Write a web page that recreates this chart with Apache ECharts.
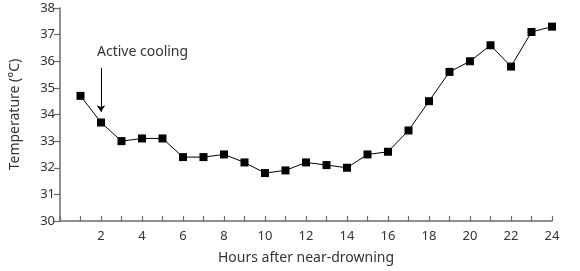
<!DOCTYPE html>
<html>
<head>
<meta charset="utf-8">
<script src="https://cdn.jsdelivr.net/npm/echarts@6/dist/echarts.min.js"></script>
<style>html,body{margin:0;padding:0;background:#fff}#c{width:580px;height:271px}</style>
</head>
<body>
<div id="c"></div>
<script>
var hours = [1,2,3,4,5,6,7,8,9,10,11,12,13,14,15,16,17,18,19,20,21,22,23,24];
var temps = [34.7,33.7,33.0,33.1,33.1,32.4,32.4,32.5,32.2,31.8,31.9,32.2,32.1,32.0,32.5,32.6,33.4,34.5,35.6,36.0,36.6,35.8,37.1,37.3];
var annotationText = 'Active cooling';
var annotationHour = 2;
var arrowFrom = 35.75;
var arrowTo = 34.1;
var textLevel = 36.35;
var xTitle = 'Hours after near-drowning';
var yTitle = 'Temperature (\u00B0C)';

var axisColor = '#6b6b6b';
var textColor = '#333';
var font = '"Noto Sans"';

var chart = echarts.init(document.getElementById('c'));
chart.setOption({
  animation: false,
  backgroundColor: '#fff',
  grid: {left: 60, right: 28, top: 8, bottom: 50, containLabel: false},
  xAxis: {
    type: 'value', min: 0, max: 24, interval: 1,
    name: xTitle, nameLocation: 'middle', nameGap: 30,
    nameTextStyle: {color: textColor, fontSize: 14, fontFamily: font},
    axisLine: {show: true, lineStyle: {color: axisColor, width: 1.5}},
    axisTick: {show: true, inside: true, length: 5, lineStyle: {color: axisColor, width: 1.2}},
    axisLabel: {color: textColor, fontSize: 13, fontFamily: font, margin: 9,
      formatter: function (v) { return (v > 0 && v % 2 === 0) ? String(v) : ''; }},
    splitLine: {show: false}
  },
  yAxis: {
    type: 'value', min: 30, max: 38, interval: 1,
    name: yTitle, nameLocation: 'middle', nameGap: 38, nameRotate: 90,
    nameTextStyle: {color: textColor, fontSize: 14, fontFamily: font},
    axisLine: {show: true, lineStyle: {color: axisColor, width: 1.5}},
    axisTick: {show: true, inside: false, length: 6, lineStyle: {color: axisColor, width: 1.2}},
    axisLabel: {color: textColor, fontSize: 13, fontFamily: font, margin: 5},
    splitLine: {show: false}
  },
  series: [{
    type: 'line',
    data: hours.map(function (h, i) { return [h, temps[i]]; }),
    symbol: 'rect', symbolSize: 8,
    itemStyle: {color: '#000'},
    lineStyle: {color: '#000', width: 1},
    markLine: {
      silent: true,
      symbol: ['none', 'arrow'], symbolSize: 6.5,
      lineStyle: {color: '#000', width: 1, type: 'solid'},
      label: {show: false},
      data: [[{coord: [annotationHour, arrowFrom]}, {coord: [annotationHour, arrowTo]}]]
    },
    markPoint: {
      silent: true,
      symbol: 'circle', symbolSize: 0,
      label: {show: true, position: 'inside', align: 'left', verticalAlign: 'middle',
        offset: [-4, 0], color: textColor, fontSize: 14, fontFamily: font,
        formatter: annotationText},
      data: [{coord: [annotationHour, textLevel]}]
    }
  }]
});
</script>
</body>
</html>
